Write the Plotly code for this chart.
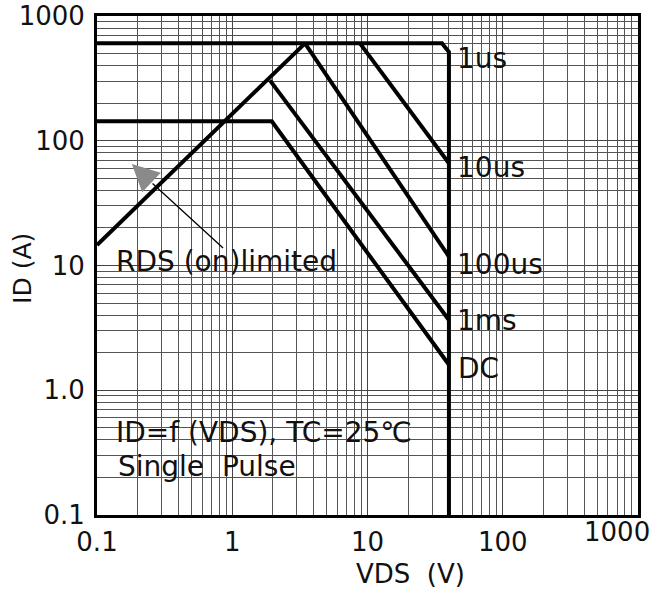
import numpy as np
import plotly.graph_objects as go

# ---- data ----
vds_1us = [0.1, 35.5, 40, 40]
id_1us = [604, 604, 515, 0.1]
vds_rds = [0.1, 3.45]
id_rds = [14.6, 604]
vds_10us = [8.8, 40]
id_10us = [604, 66]
vds_100us = [3.45, 40]
id_100us = [604, 11.8]
vds_1ms = [1.9, 40]
id_1ms = [305, 3.66]
vds_dc = [0.1, 1.96, 40]
id_dc = [143, 143, 1.6]

x_tickvals = [0.1, 1, 10, 100]
x_ticktext = ["0.1", "1", "10", "100"]
y_tickvals = [0.1, 1, 10, 100, 1000]
y_ticktext = ["0.1", "1.0", "10", "100", "1000"]

curve_labels = ["1us", "10us", "100us", "1ms", "DC"]
label_vds = [44.0, 44.0, 44.0, 44.0, 45.0]
label_id = [460, 60.5, 10.1, 3.6, 1.5]

FONT = "DejaVu Sans"
LW = 4
TXT = "#111"

fig = go.Figure()
for xs, ys in [(vds_1us, id_1us), (vds_rds, id_rds), (vds_10us, id_10us),
               (vds_100us, id_100us), (vds_1ms, id_1ms), (vds_dc, id_dc)]:
    fig.add_trace(go.Scatter(x=xs, y=ys, mode="lines",
                             line=dict(color="black", width=LW),
                             showlegend=False, hoverinfo="skip"))

annotations = []
for t, xv, yv in zip(curve_labels, label_vds, label_id):
    annotations.append(dict(x=np.log10(xv), y=np.log10(yv), xref="x", yref="y",
                            text=t, showarrow=False, xanchor="left", yanchor="middle",
                            font=dict(family=FONT, size=28, color=TXT)))

# in-plot notes
annotations.append(dict(x=np.log10(0.134), y=np.log10(10.7), xref="x", yref="y",
                        text="RDS (on)limited", showarrow=False, xanchor="left",
                        yanchor="middle", font=dict(family=FONT, size=28, color=TXT)))
annotations.append(dict(x=np.log10(0.133), y=np.log10(0.46), xref="x", yref="y",
                        text="ID=f (VDS), TC=25℃", showarrow=False, xanchor="left",
                        yanchor="middle", font=dict(family=FONT, size=28, color=TXT)))
annotations.append(dict(x=np.log10(0.139), y=np.log10(0.243), xref="x", yref="y",
                        text="Single\u00a0 Pulse", showarrow=False, xanchor="left",
                        yanchor="middle", font=dict(family=FONT, size=28, color=TXT)))

# arrow: black shaft, grey head
arrow_tail = (0.855, 13.8)
arrow_tip = (0.181, 65.2)
annotations.append(dict(x=np.log10(arrow_tail[0]), y=np.log10(arrow_tail[1]),
                        xref="x", yref="y", text="", showarrow=True, arrowhead=0,
                        arrowwidth=1.3, arrowcolor="black", ax=-72, ay=-66))
annotations.append(dict(x=np.log10(arrow_tip[0]), y=np.log10(arrow_tip[1]),
                        xref="x", yref="y", text="", showarrow=True, arrowhead=2,
                        arrowsize=4.5, arrowwidth=1.2, arrowcolor="#8a8a8a",
                        ax=19, ay=18))

# axis titles and the shifted 1000 x label
annotations.append(dict(x=-0.137, y=0.495, xref="paper", yref="paper",
                        xanchor="center", yanchor="middle",
                        text="ID (A)", textangle=-90, showarrow=False,
                        font=dict(family=FONT, size=25, color=TXT)))
annotations.append(dict(x=0.579, y=-0.118, xref="paper", yref="paper",
                        xanchor="center", yanchor="middle",
                        text="VDS\u00a0 (V)", showarrow=False,
                        font=dict(family=FONT, size=26, color=TXT)))
annotations.append(dict(x=0.961, y=-0.034, xref="paper", yref="paper",
                        xanchor="center", yanchor="middle",
                        text="1000", showarrow=False,
                        font=dict(family=FONT, size=26, color=TXT)))

axis_common = dict(type="log", showline=True, linecolor="black", linewidth=3,
                   mirror=True, showgrid=True, gridcolor="#444", gridwidth=1,
                   ticks="", zeroline=False, automargin=False,
                   tickfont=dict(family=FONT, size=26, color=TXT),
                   minor=dict(dtick="D1", showgrid=True, gridcolor="#555", gridwidth=1, ticks=""))

fig.update_xaxes(range=[-1, 3], tickvals=x_tickvals, ticktext=x_ticktext,
                 ticklabelstandoff=2, **axis_common)
fig.update_yaxes(range=[-1, 3], tickvals=y_tickvals, ticktext=y_ticktext,
                 ticklabelstandoff=4, **axis_common)

fig.update_layout(width=670, height=593, margin=dict(l=97, r=32, t=16, b=78),
                  paper_bgcolor="white", plot_bgcolor="white",
                  annotations=annotations, showlegend=False)

fig.write_html("out.html")
